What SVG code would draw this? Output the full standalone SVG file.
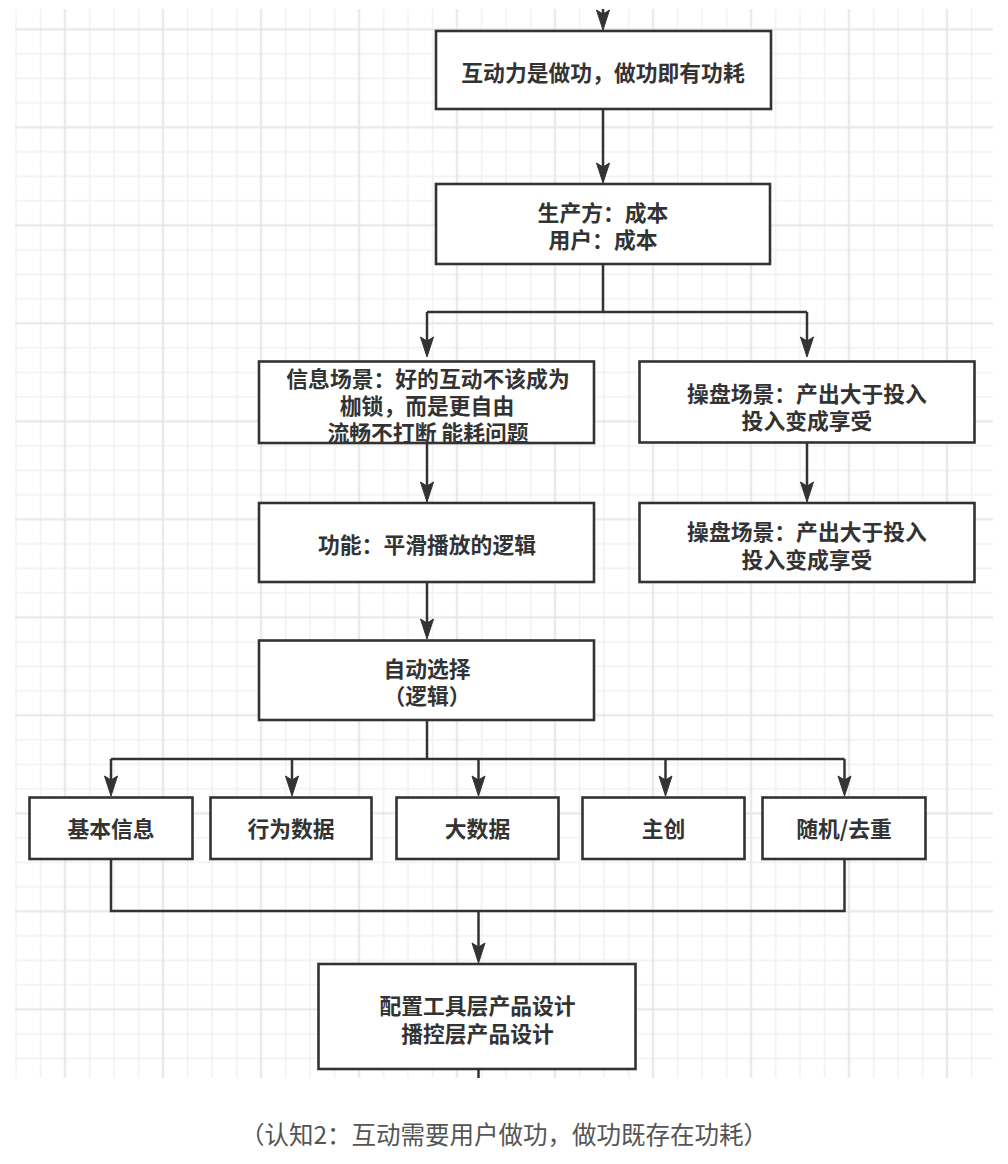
<svg xmlns="http://www.w3.org/2000/svg" width="1008" height="1164" viewBox="0 0 1008 1164">
<style>
.box{fill:#ffffff;stroke:#333333;stroke-width:2.6}
.edge{fill:none;stroke:#333333;stroke-width:2.5}
.t{font-family:"Noto Sans CJK SC","Noto Sans",sans-serif;font-size:21.8px;font-weight:700;fill:#333333;text-anchor:middle;dominant-baseline:central}
.cap{font-family:"Noto Sans CJK SC","Noto Sans",sans-serif;font-size:24.5px;font-weight:400;fill:#555555;text-anchor:middle;dominant-baseline:central}
.gm{stroke:#f1f1f1;stroke-width:1.6}
.gM{stroke:#e6e6e6;stroke-width:2}
</style>
<defs>
<pattern id="grid" patternUnits="userSpaceOnUse" x="3.75" y="-7.45" width="98" height="98">
<line class="gm" x1="12.25" y1="0" x2="12.25" y2="98"/>
<line class="gm" x1="36.75" y1="0" x2="36.75" y2="98"/>
<line class="gm" x1="85.75" y1="0" x2="85.75" y2="98"/>
<line class="gm" x1="0" y1="12.25" x2="98" y2="12.25"/>
<line class="gm" x1="0" y1="61.25" x2="98" y2="61.25"/>
<line class="gm" x1="0" y1="85.75" x2="98" y2="85.75"/>
<line class="gM" x1="61.25" y1="0" x2="61.25" y2="98"/>
<line class="gM" x1="0" y1="36.75" x2="98" y2="36.75"/>
</pattern>
<marker id="arr" markerUnits="userSpaceOnUse" markerWidth="22" markerHeight="16" viewBox="0 0 22 16" refX="11" refY="7" orient="auto">
<path d="M1,0.5 L21,7 L1,13.5 L5,7 Z" fill="#333333" stroke="#333333" stroke-width="1"/>
</marker>
</defs>
<rect x="0" y="0" width="1008" height="1164" fill="#ffffff"/>
<rect x="15" y="9" width="978" height="1069" fill="url(#grid)"/>

<g id="connectors">
<path class="edge" d="M603,9 V20" marker-end="url(#arr)"/>
<path class="edge" d="M603,109 V173" marker-end="url(#arr)"/>
<path class="edge" d="M603,264 V312"/>
<path class="edge" d="M427,312 H807"/>
<path class="edge" d="M427,312 V347" marker-end="url(#arr)"/>
<path class="edge" d="M807,312 V347" marker-end="url(#arr)"/>
<path class="edge" d="M427,443 V492" marker-end="url(#arr)"/>
<path class="edge" d="M807,442 V492" marker-end="url(#arr)"/>
<path class="edge" d="M427,582 V629" marker-end="url(#arr)"/>
<path class="edge" d="M427,720 V759"/>
<path class="edge" d="M111,759 H844.5"/>
<path class="edge" d="M111,759 V786" marker-end="url(#arr)"/>
<path class="edge" d="M292,759 V786" marker-end="url(#arr)"/>
<path class="edge" d="M478.5,759 V786" marker-end="url(#arr)"/>
<path class="edge" d="M665.5,759 V786" marker-end="url(#arr)"/>
<path class="edge" d="M844.5,759 V786" marker-end="url(#arr)"/>
<path class="edge" d="M111,859 V911 H844.5 V859"/>
<path class="edge" d="M478.5,911 V953" marker-end="url(#arr)"/>
<path class="edge" d="M478.5,1069 V1078"/>
</g>

<g id="n1"><rect class="box" x="436" y="31" width="335" height="78"/><text class="t" x="603" y="71.5">互动力是做功，做功即有功耗</text></g>
<g id="n2"><rect class="box" x="436" y="184" width="334" height="80"/><text class="t" x="603" y="211">生产方：成本</text><text class="t" x="603" y="238">用户：成本</text></g>
<g id="n3"><rect class="box" x="259" y="361.5" width="335" height="81.5"/><text class="t" x="428" y="377">信息场景：好的互动不该成为</text><text class="t" x="427" y="404">枷锁，而是更自由</text><text class="t" x="428" y="431">流畅不打断 能耗问题</text></g>
<g id="n4"><rect class="box" x="639.5" y="361.5" width="335" height="81"/><text class="t" x="807" y="392">操盘场景：产出大于投入</text><text class="t" x="807" y="419">投入变成享受</text></g>
<g id="n5"><rect class="box" x="259" y="503" width="335" height="79"/><text class="t" x="427" y="543">功能：平滑播放的逻辑</text></g>
<g id="n6"><rect class="box" x="639.5" y="503" width="335" height="79"/><text class="t" x="807" y="530">操盘场景：产出大于投入</text><text class="t" x="807" y="558">投入变成享受</text></g>
<g id="n7"><rect class="box" x="259" y="640.5" width="335" height="79.5"/><text class="t" x="427" y="667">自动选择</text><text class="t" x="427" y="694">（逻辑）</text></g>
<g id="n8"><rect class="box" x="29.5" y="797.5" width="163" height="61.5"/><text class="t" x="111" y="827">基本信息</text></g>
<g id="n9"><rect class="box" x="210.5" y="797.5" width="161" height="61.5"/><text class="t" x="291" y="827">行为数据</text></g>
<g id="n10"><rect class="box" x="396.5" y="797.5" width="162" height="61.5"/><text class="t" x="477.5" y="827">大数据</text></g>
<g id="n11"><rect class="box" x="582.5" y="797.5" width="162" height="61.5"/><text class="t" x="663.5" y="827">主创</text></g>
<g id="n12"><rect class="box" x="762.5" y="797.5" width="163" height="61.5"/><text class="t" x="844" y="827">随机/去重</text></g>
<g id="n13"><rect class="box" x="318.5" y="964" width="317" height="105"/><text class="t" x="477.5" y="1004">配置工具层产品设计</text><text class="t" x="477.5" y="1032">播控层产品设计</text></g>

<text class="cap" x="504" y="1133">（认知2：互动需要用户做功，做功既存在功耗）</text>
</svg>
